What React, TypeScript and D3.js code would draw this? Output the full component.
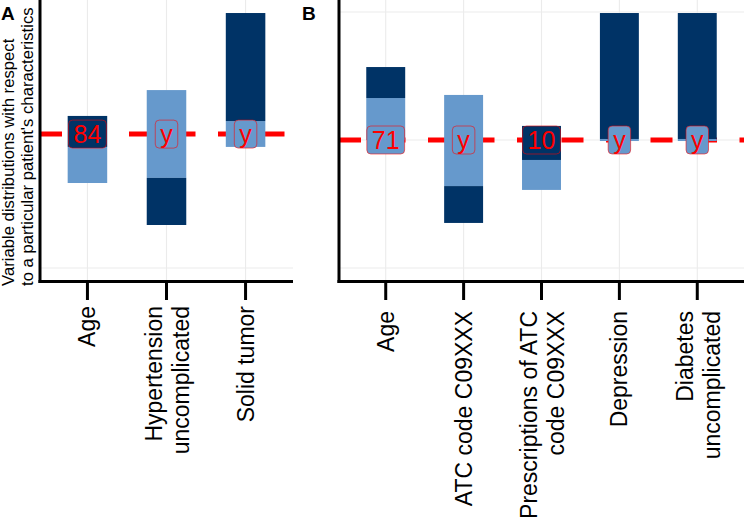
import React, { useEffect, useRef } from "react";
import * as d3 from "d3";

// Panel A
const catsA = ["Age", "Hypertension\nuncomplicated", "Solid tumor"];
const lightLowA = [0.332, 0.352, 0.473];
const lightHighA = [0.473, 0.695, 0.574];
const darkLowA = [0.473, 0.168, 0.574];
const darkHighA = [0.594, 0.352, 0.996];
const labelsA = ["84", "y", "y"];
const patientA = 0.523;
const breaksA = [0];

// Panel B
const catsB = ["Age", "ATC code C09XXX", "Prescriptions of ATC\ncode C09XXX", "Depression", "Diabetes\nuncomplicated"];
const lightLowB = [0.5, 0.32, 0.305, 0.496, 0.496];
const lightHighB = [0.664, 0.676, 0.422, 0.504, 0.504];
const darkLowB = [0.664, 0.176, 0.422, 0.504, 0.504];
const darkHighB = [0.785, 0.32, 0.555, 0.996, 0.996];
const labelsB = ["71", "y", "10", "y", "y"];
const patientB = 0.5;
const breaksB = [0, 0.5, 1];

const yTitle = ["Variable distributions with respect", "to a particular patient's characteristics"];

const FONT = "'Liberation Sans', Arial, sans-serif";
const DARK = "#003366";
const LIGHT = "#6699CC";

const App = () => {
  const ref = useRef<SVGSVGElement>(null);

  useEffect(() => {
    document.body.style.margin = "0";
    const svg = d3.select(ref.current);
    svg.selectAll("*").remove();

    const y = d3.scaleLinear().domain([0, 1]).range([268, 12]);
    const panelBottom = 281.5;

    const drawPanel = (p: any) => {
      const g = svg.append("g");
      const x = d3.scalePoint<string>().domain(p.cats).range([p.x0, p.x1]).padding(0.6);
      const bw = x.step() * 0.5;

      // grid
      g.selectAll(".vg").data(p.cats).enter().append("line")
        .attr("x1", (d: string) => x(d)!).attr("x2", (d: string) => x(d)!)
        .attr("y1", 0).attr("y2", panelBottom)
        .attr("stroke", "#EBEBEB").attr("stroke-width", 1.1);
      g.selectAll(".hg").data(p.breaks).enter().append("line")
        .attr("x1", p.x0).attr("x2", p.x1)
        .attr("y1", (d: number) => y(d)).attr("y2", (d: number) => y(d))
        .attr("stroke", "#EBEBEB").attr("stroke-width", 1.1);

      // patient line
      g.append("line")
        .attr("x1", p.x0).attr("x2", p.x1)
        .attr("y1", y(p.patient)).attr("y2", y(p.patient))
        .attr("stroke", "#FF0000").attr("stroke-width", 5)
        .attr("stroke-dasharray", "22,22.5");

      // bars
      p.cats.forEach((c: string, i: number) => {
        g.append("rect")
          .attr("x", x(c)! - bw / 2).attr("width", bw)
          .attr("y", y(p.lightHigh[i])).attr("height", y(p.lightLow[i]) - y(p.lightHigh[i]))
          .attr("fill", LIGHT);
        g.append("rect")
          .attr("x", x(c)! - bw / 2).attr("width", bw)
          .attr("y", y(p.darkHigh[i])).attr("height", y(p.darkLow[i]) - y(p.darkHigh[i]))
          .attr("fill", DARK);
      });

      // labels
      p.cats.forEach((c: string, i: number) => {
        const inDark = p.patient >= p.darkLow[i] && p.patient <= p.darkHigh[i];
        const lg = g.append("g");
        const rect = lg.append("rect");
        const t = lg.append("text")
          .attr("x", x(c)!).attr("y", y(p.patient) + 9)
          .attr("text-anchor", "middle")
          .attr("font-family", FONT).attr("font-size", 25)
          .attr("fill", "#FF0000")
          .text(p.labels[i]);
        const tw = (t.node() as SVGTextElement).getComputedTextLength();
        const w = tw + 10;
        rect.attr("x", x(c)! - w / 2).attr("y", y(p.patient) - 14)
          .attr("width", w).attr("height", 28).attr("rx", 4)
          .attr("fill", inDark ? DARK : LIGHT)
          .attr("stroke", "#FF0000").attr("stroke-opacity", 0.55).attr("stroke-width", 1);
      });

      // axes
      g.append("line").attr("x1", p.x0).attr("x2", p.x0).attr("y1", 0).attr("y2", panelBottom + 1.5)
        .attr("stroke", "#000").attr("stroke-width", 3);
      g.append("line").attr("x1", p.x0 - 1.5).attr("x2", p.x1).attr("y1", panelBottom).attr("y2", panelBottom)
        .attr("stroke", "#000").attr("stroke-width", 3);
      g.selectAll(".tk").data(p.cats).enter().append("line")
        .attr("x1", (d: string) => x(d)!).attr("x2", (d: string) => x(d)!)
        .attr("y1", panelBottom).attr("y2", 300)
        .attr("stroke", "#000").attr("stroke-width", 3);

      // tick labels
      p.cats.forEach((c: string) => {
        const lines = c.split("\n");
        const cx = x(c)!;
        const offs = lines.length === 1 ? [8] : [-4.5, 22.5];
        lines.forEach((ln, j) => {
          g.append("text")
            .attr("transform", `translate(${cx + offs[j]},${p.labelTop}) rotate(-90)`)
            .attr("text-anchor", "end")
            .attr("font-family", FONT).attr("font-size", 23)
            .attr("fill", "#000")
            .text(ln);
        });
      });

      // panel tag
      g.append("text")
        .attr("x", p.tagX).attr("y", 20)
        .attr("font-family", FONT).attr("font-size", 19).attr("font-weight", "bold")
        .text(p.tag);
    };

    drawPanel({
      cats: catsA, lightLow: lightLowA, lightHigh: lightHighA, darkLow: darkLowA, darkHigh: darkHighA,
      labels: labelsA, patient: patientA, breaks: breaksA, x0: 40, x1: 293, labelTop: 306, tag: "A", tagX: 1,
    });
    drawPanel({
      cats: catsB, lightLow: lightLowB, lightHigh: lightHighB, darkLow: darkLowB, darkHigh: darkHighB,
      labels: labelsB, patient: patientB, breaks: breaksB, x0: 339, x1: 744, labelTop: 311, tag: "B", tagX: 302,
    });

    // y axis title
    yTitle.forEach((ln, j) => {
      svg.append("text")
        .attr("transform", `translate(${14 + j * 18.5},286) rotate(-90)`)
        .attr("text-anchor", "start")
        .attr("font-family", FONT).attr("font-size", 16.7)
        .attr("fill", "#000")
        .text(ln);
    });
  }, []);

  return (
    <svg ref={ref} width={744} height={527}
      style={{ position: "absolute", left: 0, top: 0, background: "#fff", display: "block" }} />
  );
};

export default App;
